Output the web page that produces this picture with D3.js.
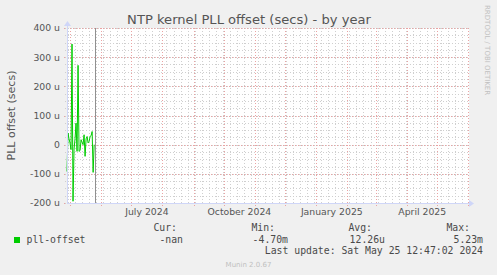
<!DOCTYPE html>
<html>
<head>
<meta charset="utf-8">
<script src="https://cdn.jsdelivr.net/npm/d3@7"></script>
<style>
  body { margin: 0; background: #f0f0f0; }
  svg { display: block; }
  text { font-family: "DejaVu Sans", sans-serif; fill: #555; }
  .mono { font-family: "DejaVu Sans Mono", monospace; font-size: 9.8px; fill: #4a4a4a; }
</style>
</head>
<body>
<svg id="chart" width="497" height="275"></svg>
<script>
// daily samples (year view, one pixel per day)
const days = [
  "2024-04-28", "2024-04-29", "2024-04-30", "2024-05-01", "2024-05-02",
  "2024-05-03", "2024-05-04", "2024-05-05", "2024-05-06", "2024-05-07",
  "2024-05-08", "2024-05-09", "2024-05-10", "2024-05-11", "2024-05-12",
  "2024-05-13", "2024-05-14", "2024-05-15", "2024-05-16", "2024-05-17",
  "2024-05-18", "2024-05-19", "2024-05-20", "2024-05-21", "2024-05-22",
  "2024-05-23", "2024-05-24", "2024-05-25"
]
// pll offset in micro seconds
const offsets = [
  -92, 40, 20, 6, -17,
  345, -194, -15, 20, 74,
  -23, 272, -23, -20, 17,
  8, 0, 34, -40, 20,
  28, 6, 11, 28, 31,
  45, -95, 0
]
const yTicks = [-200, -100, 0, 100, 200, 300, 400]
const monthLabels = ["2024-07-16", "2024-10-16", "2025-01-16", "2025-04-16"]
const timeRange = ["2024-04-28", "2025-06-02"]
const legendHeads = ["Cur:", "Min:", "Avg:", "Max:"]
const legendValues = ["-nan", "-4.70m", "12.26u", "5.23m"]
const lastUpdate = "2024-05-25 12:47:02"

const parse = d3.timeParse("%Y-%m-%d")
const parseFull = d3.timeParse("%Y-%m-%d %H:%M:%S")

const plot = { left: 67, right: 469, top: 28, bottom: 203 }
const svg = d3.select("#chart")

const x = d3.scaleTime()
  .domain(timeRange.map(parse))
  .range([plot.left, plot.right])

const y = d3.scaleLinear()
  .domain([-200, 400])
  .range([plot.bottom, plot.top])

const px = v => Math.round(v) + 0.5

// canvas
svg.append("rect")
  .attr("x", plot.left).attr("y", plot.top)
  .attr("width", plot.right - plot.left).attr("height", plot.bottom - plot.top)
  .attr("fill", "#fff")

const grid = svg.append("g").attr("shape-rendering", "crispEdges")
const minorColor = "#cfcfcf"
const majorColor = "#eaa3a3"

// minor grid
grid.selectAll(".hmin")
  .data(d3.range(-200, 401, 25))
  .join("line")
  .attr("x1", plot.left - 2).attr("x2", plot.right)
  .attr("y1", d => px(y(d))).attr("y2", d => px(y(d)))
  .attr("stroke", minorColor).attr("stroke-dasharray", "1,2")

grid.selectAll(".vmin")
  .data(d3.timeMonday.range(x.domain()[0], x.domain()[1]))
  .join("line")
  .attr("x1", d => px(x(d))).attr("x2", d => px(x(d)))
  .attr("y1", plot.top).attr("y2", plot.bottom + 2)
  .attr("stroke", minorColor).attr("stroke-dasharray", "1,2")

// major grid
grid.selectAll(".hmaj")
  .data(yTicks)
  .join("line")
  .attr("x1", plot.left - 3).attr("x2", plot.right)
  .attr("y1", d => px(y(d))).attr("y2", d => px(y(d)))
  .attr("stroke", majorColor).attr("stroke-dasharray", "1,2")

grid.selectAll(".vmaj")
  .data(d3.timeMonth.range(x.domain()[0], x.domain()[1]))
  .join("line")
  .attr("x1", d => px(x(d))).attr("x2", d => px(x(d)))
  .attr("y1", plot.top).attr("y2", plot.bottom + 3)
  .attr("stroke", majorColor).attr("stroke-dasharray", "1,2")

// data line
const line = d3.line()
  .x((d, i) => x(parse(days[i])))
  .y(d => y(d))

svg.append("path")
  .datum(offsets)
  .attr("d", line)
  .attr("fill", "none")
  .attr("stroke", "#00cc00")
  .attr("stroke-width", 1)

// last update marker
const now = x(parseFull(lastUpdate))
svg.append("line")
  .attr("x1", px(now)).attr("x2", px(now))
  .attr("y1", plot.top).attr("y2", plot.bottom)
  .attr("stroke", "#909090")
  .attr("shape-rendering", "crispEdges")

// axes lines and arrows
const axisColor = "#cfd6f8"
svg.append("line")
  .attr("x1", plot.left + 0.5).attr("x2", plot.left + 0.5)
  .attr("y1", plot.bottom + 1).attr("y2", plot.top - 5)
  .attr("stroke", axisColor).attr("shape-rendering", "crispEdges")
svg.append("path")
  .attr("d", `M${plot.left - 3},${plot.top - 2} L${plot.left + 4},${plot.top - 2} L${plot.left + 0.5},${plot.top - 7} Z`)
  .attr("fill", axisColor)
svg.append("line")
  .attr("x1", plot.left).attr("x2", plot.right + 3)
  .attr("y1", plot.bottom + 0.5).attr("y2", plot.bottom + 0.5)
  .attr("stroke", axisColor).attr("shape-rendering", "crispEdges")
svg.append("path")
  .attr("d", `M${plot.right},${plot.bottom - 3} L${plot.right},${plot.bottom + 4} L${plot.right + 5},${plot.bottom + 0.5} Z`)
  .attr("fill", axisColor)

// tick labels
const yAxis = d3.axisLeft(y)
  .tickValues(yTicks)
  .tickSize(0)
  .tickPadding(7)
  .tickFormat(v => v === 0 ? "0" : `${v} u`)

const gy = svg.append("g")
  .attr("transform", `translate(${plot.left},0)`)
  .call(yAxis)
gy.select(".domain").remove()
gy.selectAll("text")
  .style("font-family", "DejaVu Sans")
  .style("font-size", "9.3px")
  .attr("fill", "#555")

const xAxis = d3.axisBottom(x)
  .tickValues(monthLabels.map(parse))
  .tickSize(0)
  .tickPadding(5.4)
  .tickFormat(d3.timeFormat("%B %Y"))

const gx = svg.append("g")
  .attr("transform", `translate(0,${plot.bottom})`)
  .call(xAxis)
gx.select(".domain").remove()
gx.selectAll("text")
  .style("font-family", "DejaVu Sans")
  .style("font-size", "9.3px")
  .attr("fill", "#555")

// title and vertical label
svg.append("text")
  .attr("x", 249).attr("y", 24)
  .attr("text-anchor", "middle")
  .style("font-size", "13.1px")
  .text("NTP kernel PLL offset (secs) - by year")

svg.append("text")
  .attr("transform", `translate(15,${(plot.top + plot.bottom) / 2}) rotate(-90)`)
  .attr("text-anchor", "middle")
  .style("font-size", "11px")
  .text("PLL offset (secs)")

svg.append("text")
  .attr("transform", "translate(485,5) rotate(90)")
  .style("font-size", "7px")
  .style("fill", "#c0c0c0")
  .text("RRDTOOL / TOBI OETIKER")

// legend
const headX = [177, 275, 372, 470]
const valX = [183, 288, 385, 483]

svg.selectAll(".head")
  .data(legendHeads)
  .join("text")
  .attr("class", "mono")
  .attr("x", (d, i) => headX[i]).attr("y", 230.5)
  .attr("text-anchor", "end")
  .text(d => d)

svg.append("rect")
  .attr("x", 14).attr("y", 237)
  .attr("width", 6).attr("height", 6)
  .attr("fill", "#00cc00")

svg.append("text")
  .attr("class", "mono")
  .attr("x", 26.5).attr("y", 242.5)
  .text("pll-offset")

svg.selectAll(".val")
  .data(legendValues)
  .join("text")
  .attr("class", "mono")
  .attr("x", (d, i) => valX[i]).attr("y", 242.5)
  .attr("text-anchor", "end")
  .text(d => d)

svg.append("text")
  .attr("class", "mono")
  .attr("x", 483).attr("y", 254)
  .attr("text-anchor", "end")
  .text(`Last update: ${d3.timeFormat("%a %b %d %H:%M:%S %Y")(parseFull(lastUpdate))}`)

svg.append("text")
  .attr("x", 248.5).attr("y", 267)
  .attr("text-anchor", "middle")
  .style("font-size", "7px")
  .style("fill", "#c0c0c0")
  .text("Munin 2.0.67")
</script>
</body>
</html>
